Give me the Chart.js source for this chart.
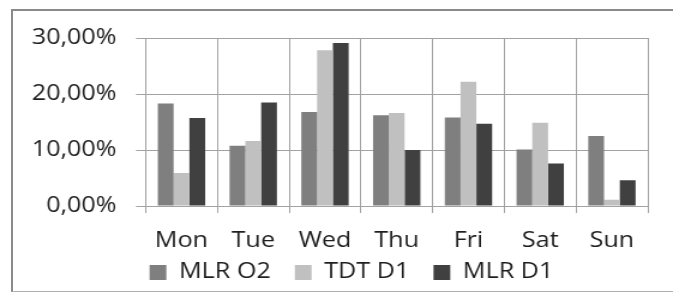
<!DOCTYPE html>
<html>
<head>
<meta charset="utf-8">
<script src="https://cdn.jsdelivr.net/npm/chart.js@4.4.0/dist/chart.umd.min.js"></script>
<style>
  html, body { margin: 0; padding: 0; background: #fff; overflow: hidden; }
  body { width: 673px; height: 293px; position: relative; }
  #frame { position: absolute; left: 11px; top: 9px; width: 700px; height: 283px;
           border-left: 2px solid #8a8a8a; border-top: 2px solid #8a8a8a; border-bottom: 1px solid #b0b0b0; box-sizing: border-box; }
  #wrap { position: absolute; left: 0; top: 0; width: 561px; height: 293px;
          transform: scaleX(1.1996); transform-origin: 0 0; }
</style>
</head>
<body>
<div id="frame"></div>
<div id="wrap"><canvas id="c" width="561" height="293"></canvas></div>
<script>
const categories = ["Mon", "Tue", "Wed", "Thu", "Fri", "Sat", "Sun"];
const seriesNames = ["MLR O2", "TDT D1", "MLR D1"];
const mlrO2 = [18.3, 10.75, 16.8, 16.2, 15.8, 10.1, 12.5];
const tdtD1 = [5.9, 11.6, 27.8, 16.6, 22.2, 14.85, 1.1];
const mlrD1 = [15.7, 18.5, 29.1, 10.0, 14.7, 7.6, 4.6];
const yTicks = [0, 10, 20, 30];

const colors = ["#7f7f7f", "#c0c0c0", "#404040"];
const font = { family: "'Open Sans', sans-serif", size: 21 };
const gridColor = "#a2a2a2";

new Chart(document.getElementById("c"), {
  type: "bar",
  data: {
    labels: categories,
    datasets: [mlrO2, tdtD1, mlrD1].map((d, i) => ({
      label: seriesNames[i],
      data: d,
      backgroundColor: colors[i],
      borderWidth: 0,
      categoryPercentage: 0.66,
      barPercentage: 1.0
    }))
  },
  options: {
    responsive: false,
    animation: false,
    devicePixelRatio: 1,
    layout: { padding: { left: 46, right: 21, top: 38, bottom: 0 } },
    plugins: {
      tooltip: { enabled: false },
      legend: {
        position: "bottom",
        labels: {
          color: "#1e1e1e",
          font: font,
          boxWidth: 14,
          boxHeight: 15,
          padding: 20
        }
      }
    },
    scales: {
      x: {
        grid: { color: gridColor, lineWidth: 1, tickLength: 7, offset: true, drawOnChartArea: true },
        border: { color: gridColor },
        ticks: { color: "#1e1e1e", font: font, mirror: true, padding: -48, maxRotation: 0 },
        afterFit: (s) => { s.height = 36; }
      },
      y: {
        min: 0, max: 30,
        afterBuildTicks: (s) => { s.ticks = yTicks.map(v => ({ value: v })); },
        grid: { color: gridColor, lineWidth: 1, tickLength: 8 },
        border: { color: gridColor },
        ticks: {
          color: "#1e1e1e", font: font, mirror: true, crossAlign: "far", padding: -95,
          callback: (v) => v.toFixed(2).replace(".", ",") + "%"
        },
        afterFit: (s) => { s.width = 75.4; }
      }
    }
  }
});
</script>
</body>
</html>
